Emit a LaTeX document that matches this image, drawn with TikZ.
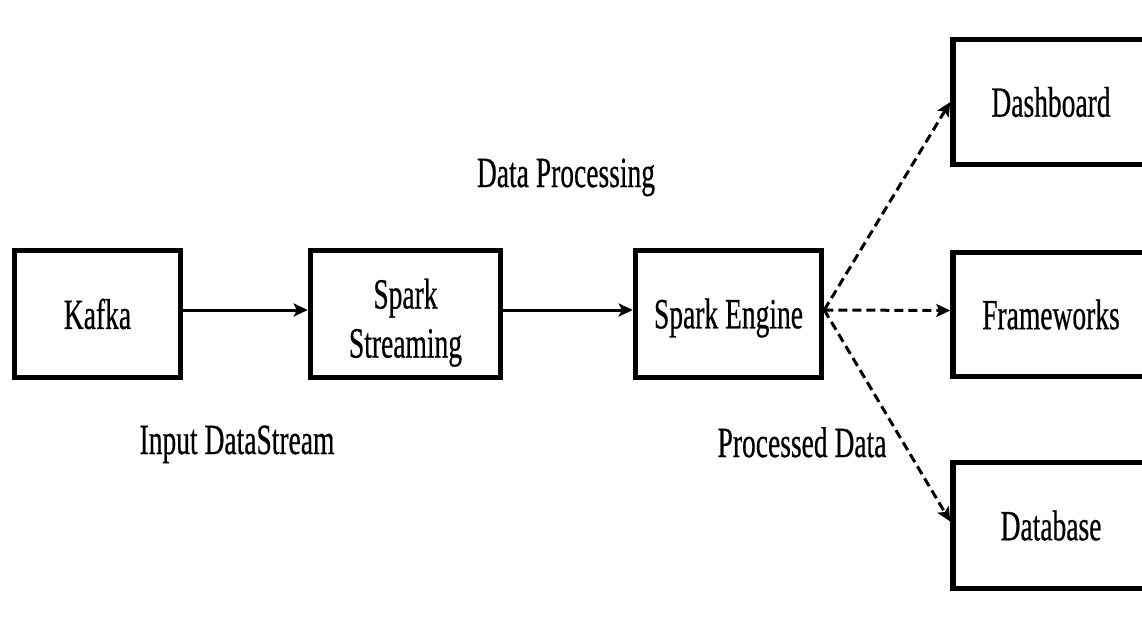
\documentclass[tikz,border=0pt]{standalone}
\usepackage{graphicx}
\usepackage{fontspec}
\setmainfont{Liberation Serif}
\usetikzlibrary{arrows.meta}
\newcommand{\nar}[1]{\scalebox{0.64}[1]{#1}}
\begin{document}
\begin{tikzpicture}[x=1pt,y=-1pt,
  txt/.style={font=\fontsize{43}{45}\selectfont\addfontfeatures{FakeBold=0.6}},
  box/.style={draw=black,line width=5.5pt,rectangle,inner sep=0pt,txt},
  lbl/.style={inner sep=0pt,anchor=base,txt},
  solidarrow/.style={line width=3pt,-{Stealth[length=14pt,width=13pt,inset=3pt]}},
  dasharrow/.style={line width=3pt,dash pattern=on 9pt off 5pt,-{Stealth[length=14pt,width=13pt,inset=3pt]}}]
\useasboundingbox (0,0) rectangle (1142,624);
\fill[white] (0,0) rectangle (1142,624);
\clip (0,0) rectangle (1142,624);
\node[box,minimum width=166pt,minimum height=127pt] (kafka) at (97.5,314) {\nar{Kafka}};
\node[box,minimum width=190pt,minimum height=127pt] (stream) at (405.5,314)
  {\nar{\raisebox{-10pt}[\height][\depth]{\begin{tabular}{@{}c@{}}Spark\\[4pt]Streaming\end{tabular}}}};
\node[box,minimum width=186pt,minimum height=127pt] (engine) at (728.5,314) {\nar{\raisebox{-4pt}[\height][\depth]{Spark Engine}}};
\node[box,minimum width=196pt,minimum height=125pt] (dash) at (1051,102) {\nar{Dashboard}};
\node[box,minimum width=196pt,minimum height=124pt] (frame) at (1051,314.5) {\nar{Frameworks}};
\node[box,minimum width=196pt,minimum height=126pt] (db) at (1051,525.5) {\nar{Database}};
\node[lbl] (proc) at (566,187) {\nar{Data Processing}};
\node[lbl] (input) at (237,454) {\nar{Input DataStream}};
\node[lbl] (pdata) at (802,457) {\nar{Processed Data}};
\draw[solidarrow] ([yshift=4pt]kafka.east) -- ([yshift=4pt]stream.west);
\draw[solidarrow] ([yshift=4pt]stream.east) -- ([yshift=4pt]engine.west);
\coordinate (src) at ([yshift=4pt]engine.east);
\draw[dasharrow] (src) -- (dash.west);
\draw[dasharrow] (src) -- ([yshift=4pt]frame.west);
\draw[dasharrow] (src) -- ([yshift=4pt]db.west);
\end{tikzpicture}
\end{document}
